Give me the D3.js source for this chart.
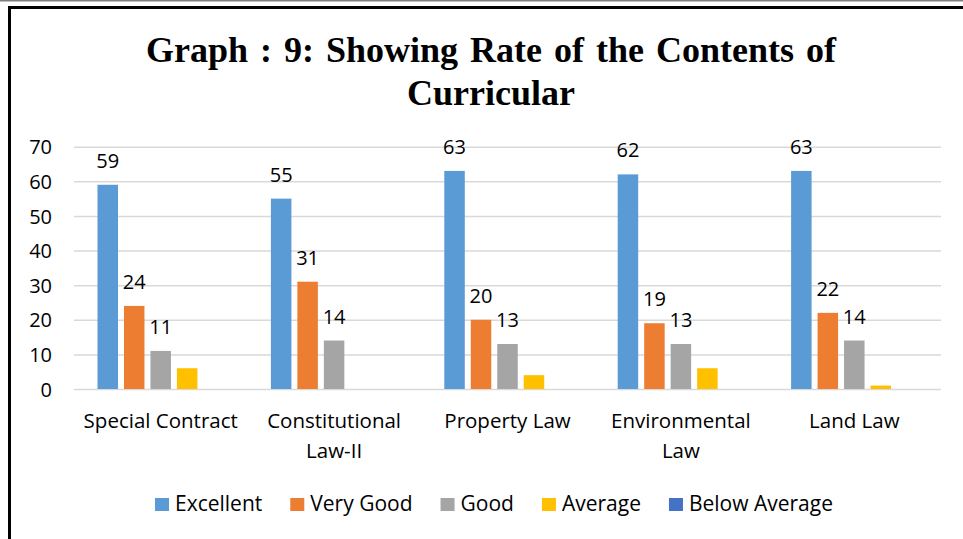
<!DOCTYPE html>
<html>
<head>
<meta charset="utf-8">
<script src="https://cdn.jsdelivr.net/npm/d3@7"></script>
<style>
    body { margin: 0; background: #fff; }
    svg { display: block; }
</style>
</head>
<body>
<div id="chart"></div>
<script>
// data
const categories = ['Special Contract', 'Constitutional Law-II', 'Property Law', 'Environmental Law', 'Land Law'];
const seriesNames = ['Excellent', 'Very Good', 'Good', 'Average', 'Below Average'];
const excellent = [59, 55, 63, 62, 63];
const veryGood = [24, 31, 20, 19, 22];
const good = [11, 14, 13, 13, 14];
const average = [6, 0, 4, 6, 1];
const belowAverage = [0, 0, 0, 0, 0];
const labelledSeries = ['Excellent', 'Very Good', 'Good'];
const yTicks = [0, 10, 20, 30, 40, 50, 60, 70];
const titleLines = ['Graph : 9: Showing Rate of the Contents of', 'Curricular'];

const colors = ['#5B9BD5', '#ED7D31', '#A5A5A5', '#FFC000', '#4472C4'];
const seriesValues = [excellent, veryGood, good, average, belowAverage];

const rows = categories.map((c, i) => ({
    category: c,
    values: seriesNames.map((s, j) => ({ series: s, value: seriesValues[j][i] }))
}));

const width = 963, height = 539;
const plot = { left: 74, right: 941, top: 146.7, bottom: 389 };

const svg = d3.select('#chart').append('svg')
    .attr('width', width)
    .attr('height', height)
    .style('font-family', '"Open Sans", sans-serif');

// page frame
svg.append('line')
    .attr('x1', 0).attr('x2', width).attr('y1', 0.7).attr('y2', 0.7)
    .attr('stroke', '#7f7f7f').attr('stroke-width', 1.5);
svg.append('path')
    .attr('d', `M9.5,${height} V7.5 H${width}`)
    .attr('fill', 'none')
    .attr('stroke', '#000')
    .attr('stroke-width', 3);

const x0 = d3.scaleBand()
    .domain(categories)
    .range([plot.left, plot.right]);

const edge = 23.5;
const x1 = d3.scaleBand()
    .domain(seriesNames)
    .range([edge, x0.bandwidth() - edge])
    .paddingInner(0.226);

const y = d3.scaleLinear()
    .domain([0, 70])
    .range([plot.bottom, plot.top]);

const color = d3.scaleOrdinal().domain(seriesNames).range(colors);

// gridlines + tick labels
const yAxis = svg.append('g')
    .attr('transform', `translate(${plot.left},0)`)
    .call(d3.axisLeft(y).tickValues(yTicks).tickSizeInner(-(plot.right - plot.left)).tickSizeOuter(0).tickPadding(22));
yAxis.select('.domain').remove();
yAxis.selectAll('.tick line')
    .attr('stroke', '#d9d9d9')
    .attr('stroke-width', 1.5);
yAxis.selectAll('.tick text')
    .attr('font-family', '"Open Sans", sans-serif')
    .attr('font-size', 20)
    .attr('fill', '#000')
    .attr('dy', '0.36em');

// bars
const groups = svg.append('g')
    .selectAll('g')
    .data(rows)
    .join('g')
        .attr('transform', d => `translate(${x0(d.category)},0)`);

groups.selectAll('rect')
    .data(d => d.values.filter(v => v.value > 0))
    .join('rect')
        .attr('x', d => x1(d.series))
        .attr('y', d => y(d.value))
        .attr('width', x1.bandwidth())
        .attr('height', d => y(0) - y(d.value))
        .attr('fill', d => color(d.series));

groups.selectAll('text')
    .data(d => d.values.filter(v => labelledSeries.includes(v.series) && v.value > 0))
    .join('text')
        .attr('x', d => x1(d.series) + x1.bandwidth() / 2)
        .attr('y', d => y(d.value) - 17)
        .attr('text-anchor', 'middle')
        .attr('font-size', 20)
        .attr('fill', '#000')
        .text(d => d.value);

// category labels, wrapped to the band width
const catLabels = svg.append('g')
    .selectAll('text')
    .data(categories)
    .join('text')
        .attr('text-anchor', 'middle')
        .attr('font-size', 20.5)
        .attr('fill', '#000')
        .attr('transform', d => `translate(${x0(d) + x0.bandwidth() / 2},428)`);

catLabels.each(function (d) {
    const text = d3.select(this);
    const words = d.split(' ');
    let line = [];
    let lineNo = 0;
    let tspan = text.append('tspan').attr('x', 0).attr('y', 0);
    words.forEach(w => {
        line.push(w);
        tspan.text(line.join(' '));
        if (tspan.node().getComputedTextLength() > x0.bandwidth() - 6 && line.length > 1) {
            line.pop();
            tspan.text(line.join(' '));
            line = [w];
            lineNo++;
            tspan = text.append('tspan').attr('x', 0).attr('y', lineNo * 30).text(w);
        }
    });
});

// title
svg.append('text')
    .attr('text-anchor', 'middle')
    .attr('font-family', '"Liberation Serif", "Times New Roman", serif')
    .attr('font-weight', 'bold')
    .attr('font-size', 36)
    .attr('word-spacing', 3)
    .attr('fill', '#000')
    .selectAll('tspan')
    .data(titleLines)
    .join('tspan')
        .attr('x', 491)
        .attr('y', (d, i) => 62 + i * 43)
        .text(d => d);

// legend
const legend = svg.append('g')
    .attr('font-size', 21);

const items = legend.selectAll('g')
    .data(seriesNames)
    .join('g');

items.append('rect')
    .attr('y', 498)
    .attr('width', 14)
    .attr('height', 13)
    .attr('fill', d => color(d));

items.append('text')
    .attr('x', 20)
    .attr('y', 511)
    .attr('fill', '#000')
    .text(d => d);

let offset = 0;
items.each(function () {
    const g = d3.select(this);
    g.attr('transform', `translate(${offset},0)`);
    offset += 20 + g.select('text').node().getComputedTextLength() + 28;
});
const legendWidth = offset - 28;
legend.attr('transform', `translate(${494 - legendWidth / 2},0)`);
</script>
</body>
</html>
